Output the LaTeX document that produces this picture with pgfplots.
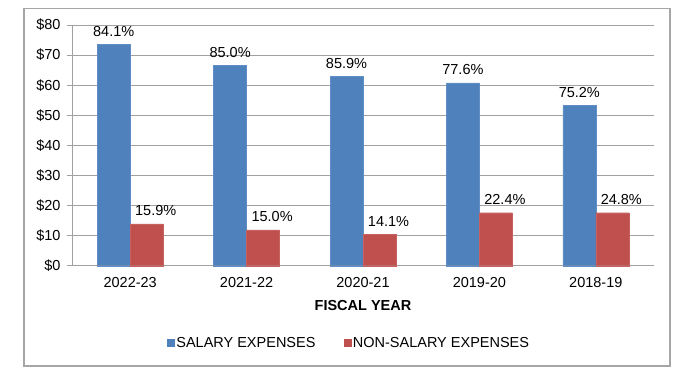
\documentclass[border=0pt]{standalone}
\usepackage{pgfplots}
\pgfplotsset{compat=1.18}
\usepackage{fontspec}
\setmainfont{Liberation Sans}
\definecolor{salblue}{RGB}{79,129,189}
\definecolor{salred}{RGB}{192,80,77}
\definecolor{gridgray}{RGB}{160,160,160}
\definecolor{framegray}{RGB}{166,166,166}
\begin{document}
\begin{tikzpicture}[x=1bp,y=1bp]
\path (0,0) rectangle (692,375);
\draw[framegray, line width=1.5bp] (24,9) rectangle (670,366.7);
\begin{axis}[
  at={(72bp,109.3bp)}, anchor=south west,
  width=582bp, height=240.7bp, scale only axis,
  ybar=0pt, bar width=33bp,
  xmin=-0.5, xmax=4.5, ymin=0, ymax=80,
  xtick=data,
  xticklabels={2022-23,2021-22,2020-21,2019-20,2018-19},
  x tick style={draw=none},
  extra x ticks={-0.5,0.5,1.5,2.5,3.5,4.5},
  extra x tick labels={},
  extra x tick style={major tick length=5bp, tick style={draw=gridgray, line width=0.8bp}, grid=none},
  ytick={0,10,...,80},
  yticklabel={\$\pgfmathprintnumber{\tick}},
  /pgf/number format/assume math mode=true,
  tick align=outside,
  major tick length=5bp,
  y tick style={draw=gridgray, line width=0.8bp},
  ymajorgrids, grid style={draw=gridgray, line width=0.8bp},
  axis x line*=bottom, axis y line*=left,
  axis line style={draw=gridgray, line width=0.8bp, -},
  tick label style={font=\fontsize{14.5bp}{17bp}\selectfont, text=black},
  yticklabel style={xshift=-3bp},
  xticklabel style={yshift=-3bp},
  xlabel={\textbf{FISCAL YEAR}},
  xlabel style={font=\fontsize{14.5bp}{17bp}\selectfont, yshift=4bp},
  nodes near coords,
  nodes near coords style={font=\fontsize{14.5bp}{17bp}\selectfont, text=black, anchor=base, yshift=8bp},
  legend columns=2,
  legend style={at={(0.476,-0.321)}, anchor=center, draw=none, fill=none,
    font=\fontsize{14.5bp}{17bp}\selectfont,
    /tikz/every even column/.append style={column sep=26bp}},
  clip=false,
]
\addplot[fill=salblue, draw=salblue!90!white,
  legend image code/.code={\fill[salblue] (0bp,-3.5bp) rectangle (7bp,3.5bp);},
  point meta=explicit symbolic]
  coordinates {(0,73.6)[84.1\%] (1,66.7)[85.0\%] (2,63.0)[85.9\%] (3,60.8)[77.6\%] (4,53.2)[75.2\%]};
\addplot[fill=salred, draw=salred!90!white,
  legend image code/.code={\fill[salred] (0bp,-3.5bp) rectangle (7bp,3.5bp);},
  point meta=explicit symbolic,
  nodes near coords style={xshift=9bp}]
  coordinates {(0,13.9)[15.9\%] (1,11.9)[15.0\%] (2,10.4)[14.1\%] (3,17.6)[22.4\%] (4,17.6)[24.8\%]};
\legend{SALARY EXPENSES, NON-SALARY EXPENSES}
\end{axis}
\end{tikzpicture}
\end{document}
